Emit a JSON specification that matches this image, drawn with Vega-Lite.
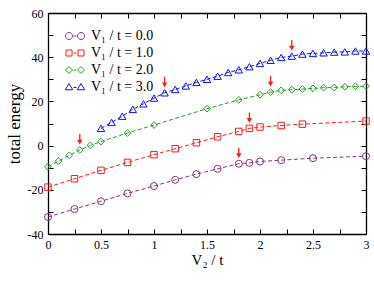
{
  "$schema": "https://vega.github.io/schema/vega-lite/v6.json",
  "width": 318,
  "height": 221,
  "autosize": "none",
  "padding": {"left": 48, "top": 13, "right": 8, "bottom": 49},
  "background": "white",
  "config": {
    "view": {"stroke": null},
    "font": "Liberation Serif",
    "axis": {
      "domainColor": "black",
      "domainWidth": 1.3,
      "tickColor": "black",
      "tickWidth": 1,
      "grid": false,
      "labelFont": "Liberation Serif",
      "labelFontSize": 12,
      "labelColor": "black",
      "titleFont": "Liberation Serif",
      "titleFontWeight": "normal",
      "titleColor": "black"
    },
    "legend": {
      "orient": "none",
      "legendX": 20,
      "legendY": 16,
      "title": null,
      "padding": 0,
      "rowPadding": 3,
      "labelFont": "Liberation Serif",
      "labelFontSize": 14,
      "labelColor": "black",
      "labelOffset": 9,
      "symbolSize": 100,
      "symbolStrokeWidth": 1,
      "symbolOpacity": 1
    }
  },
  "datasets": {
    "energy": [
      {"series": "V₁ / t = 0.0", "v2": 0, "e": -32.3},
      {"series": "V₁ / t = 0.0", "v2": 0.25, "e": -28.7},
      {"series": "V₁ / t = 0.0", "v2": 0.5, "e": -25.2},
      {"series": "V₁ / t = 0.0", "v2": 0.75, "e": -21.6},
      {"series": "V₁ / t = 0.0", "v2": 1.0, "e": -18.3},
      {"series": "V₁ / t = 0.0", "v2": 1.2, "e": -15.5},
      {"series": "V₁ / t = 0.0", "v2": 1.4, "e": -12.9},
      {"series": "V₁ / t = 0.0", "v2": 1.6, "e": -10.5},
      {"series": "V₁ / t = 0.0", "v2": 1.8, "e": -8.2},
      {"series": "V₁ / t = 0.0", "v2": 1.9, "e": -7.8},
      {"series": "V₁ / t = 0.0", "v2": 2.0, "e": -7.2},
      {"series": "V₁ / t = 0.0", "v2": 2.2, "e": -6.6},
      {"series": "V₁ / t = 0.0", "v2": 2.5, "e": -5.7},
      {"series": "V₁ / t = 0.0", "v2": 3.0, "e": -4.8},
      {"series": "V₁ / t = 1.0", "v2": 0, "e": -18.8},
      {"series": "V₁ / t = 1.0", "v2": 0.25, "e": -15.0},
      {"series": "V₁ / t = 1.0", "v2": 0.5, "e": -11.2},
      {"series": "V₁ / t = 1.0", "v2": 0.75, "e": -7.6},
      {"series": "V₁ / t = 1.0", "v2": 1.0, "e": -4.1},
      {"series": "V₁ / t = 1.0", "v2": 1.2, "e": -1.4},
      {"series": "V₁ / t = 1.0", "v2": 1.4, "e": 1.3},
      {"series": "V₁ / t = 1.0", "v2": 1.6, "e": 4.0},
      {"series": "V₁ / t = 1.0", "v2": 1.8, "e": 6.4},
      {"series": "V₁ / t = 1.0", "v2": 1.9, "e": 7.8},
      {"series": "V₁ / t = 1.0", "v2": 2.0, "e": 8.4},
      {"series": "V₁ / t = 1.0", "v2": 2.2, "e": 9.1},
      {"series": "V₁ / t = 1.0", "v2": 2.4, "e": 9.7},
      {"series": "V₁ / t = 1.0", "v2": 3.0, "e": 11.1},
      {"series": "V₁ / t = 2.0", "v2": 0, "e": -9.6},
      {"series": "V₁ / t = 2.0", "v2": 0.1, "e": -7.0},
      {"series": "V₁ / t = 2.0", "v2": 0.2, "e": -4.4},
      {"series": "V₁ / t = 2.0", "v2": 0.3, "e": -2.0},
      {"series": "V₁ / t = 2.0", "v2": 0.4, "e": 0.1},
      {"series": "V₁ / t = 2.0", "v2": 0.5, "e": 1.8},
      {"series": "V₁ / t = 2.0", "v2": 0.75, "e": 5.7},
      {"series": "V₁ / t = 2.0", "v2": 1.0, "e": 9.3},
      {"series": "V₁ / t = 2.0", "v2": 1.5, "e": 16.7},
      {"series": "V₁ / t = 2.0", "v2": 1.8, "e": 20.7},
      {"series": "V₁ / t = 2.0", "v2": 2.0, "e": 23.0},
      {"series": "V₁ / t = 2.0", "v2": 2.1, "e": 24.2},
      {"series": "V₁ / t = 2.0", "v2": 2.2, "e": 25.0},
      {"series": "V₁ / t = 2.0", "v2": 2.3, "e": 25.3},
      {"series": "V₁ / t = 2.0", "v2": 2.4, "e": 25.6},
      {"series": "V₁ / t = 2.0", "v2": 2.5, "e": 25.9},
      {"series": "V₁ / t = 2.0", "v2": 2.6, "e": 26.2},
      {"series": "V₁ / t = 2.0", "v2": 2.7, "e": 26.3},
      {"series": "V₁ / t = 2.0", "v2": 2.8, "e": 26.6},
      {"series": "V₁ / t = 2.0", "v2": 2.9, "e": 26.8},
      {"series": "V₁ / t = 2.0", "v2": 3.0, "e": 26.9},
      {"series": "V₁ / t = 3.0", "v2": 0.5, "e": 7.8},
      {"series": "V₁ / t = 3.0", "v2": 0.6, "e": 10.5},
      {"series": "V₁ / t = 3.0", "v2": 0.7, "e": 13.3},
      {"series": "V₁ / t = 3.0", "v2": 0.8, "e": 16.4},
      {"series": "V₁ / t = 3.0", "v2": 0.9, "e": 18.9},
      {"series": "V₁ / t = 3.0", "v2": 1.0, "e": 21.5},
      {"series": "V₁ / t = 3.0", "v2": 1.1, "e": 23.9},
      {"series": "V₁ / t = 3.0", "v2": 1.2, "e": 25.4},
      {"series": "V₁ / t = 3.0", "v2": 1.3, "e": 27.0},
      {"series": "V₁ / t = 3.0", "v2": 1.4, "e": 28.6},
      {"series": "V₁ / t = 3.0", "v2": 1.5, "e": 30.0},
      {"series": "V₁ / t = 3.0", "v2": 1.6, "e": 31.4},
      {"series": "V₁ / t = 3.0", "v2": 1.7, "e": 33.1},
      {"series": "V₁ / t = 3.0", "v2": 1.8, "e": 34.3},
      {"series": "V₁ / t = 3.0", "v2": 1.9, "e": 35.7},
      {"series": "V₁ / t = 3.0", "v2": 2.0, "e": 37.2},
      {"series": "V₁ / t = 3.0", "v2": 2.1, "e": 38.6},
      {"series": "V₁ / t = 3.0", "v2": 2.2, "e": 39.9},
      {"series": "V₁ / t = 3.0", "v2": 2.3, "e": 40.5},
      {"series": "V₁ / t = 3.0", "v2": 2.4, "e": 41.4},
      {"series": "V₁ / t = 3.0", "v2": 2.5, "e": 41.7},
      {"series": "V₁ / t = 3.0", "v2": 2.6, "e": 42.0},
      {"series": "V₁ / t = 3.0", "v2": 2.7, "e": 42.3},
      {"series": "V₁ / t = 3.0", "v2": 2.8, "e": 42.4},
      {"series": "V₁ / t = 3.0", "v2": 2.9, "e": 42.8},
      {"series": "V₁ / t = 3.0", "v2": 3.0, "e": 42.8}
    ],
    "arrows": [
      {"v2": 0.3, "e": -2.0},
      {"v2": 1.1, "e": 23.9},
      {"v2": 1.8, "e": -8.2},
      {"v2": 1.9, "e": 7.8},
      {"v2": 2.1, "e": 24.2},
      {"v2": 2.3, "e": 40.5}
    ],
    "legend": [
      {"series": "V₁ / t = 0.0"},
      {"series": "V₁ / t = 1.0"},
      {"series": "V₁ / t = 2.0"},
      {"series": "V₁ / t = 3.0"}
    ]
  },
  "resolve": {"axis": {"x": "independent", "y": "independent"}},
  "layer": [
    {
      "data": {"name": "energy"},
      "mark": {"type": "line", "strokeWidth": 1, "strokeDash": [4, 2.5]},
      "encoding": {
        "x": {
          "field": "v2", "type": "quantitative",
          "scale": {"domain": [0, 3], "nice": false, "zero": false},
          "axis": {
            "orient": "bottom",
            "title": "V₂ / t",
            "titleFontSize": 15,
            "titlePadding": 2,
            "values": [0, 0.25, 0.5, 0.75, 1, 1.25, 1.5, 1.75, 2, 2.25, 2.5, 2.75, 3],
            "labelExpr": "datum.value % 0.5 == 0 ? '' + datum.value : ''",
            "tickSize": -5,
            "labelPadding": 10,
            "labelFlush": false
          }
        },
        "y": {
          "field": "e", "type": "quantitative",
          "scale": {"domain": [-40, 60], "nice": false, "zero": false},
          "axis": {
            "orient": "left",
            "title": "total energy",
            "titleFontSize": 17,
            "titlePadding": 4,
            "values": [-40, -30, -20, -10, 0, 10, 20, 30, 40, 50, 60],
            "labelExpr": "datum.value % 20 == 0 ? '' + datum.value : ''",
            "tickSize": -5,
            "labelPadding": 10,
            "labelFlush": false
          }
        },
        "color": {
          "field": "series", "type": "nominal",
          "scale": {
            "domain": ["V₁ / t = 0.0", "V₁ / t = 1.0", "V₁ / t = 2.0", "V₁ / t = 3.0"],
            "range": ["#853585", "#FF1A1A", "#1E9E1E", "#1010FF"]
          }
        },
        "detail": {"field": "series"}
      }
    },
    {
      "data": {"name": "energy"},
      "transform": [{"filter": "datum.series == 'V₁ / t = 0.0'"}],
      "mark": {"type": "point", "shape": "circle", "filled": false, "size": 49, "strokeWidth": 1, "opacity": 1},
      "encoding": {
        "x": {"field": "v2", "type": "quantitative", "axis": {"orient": "top", "title": null, "labels": false, "values": [0, 0.25, 0.5, 0.75, 1, 1.25, 1.5, 1.75, 2, 2.25, 2.5, 2.75, 3], "tickSize": -5}},
        "y": {"field": "e", "type": "quantitative", "axis": {"orient": "right", "title": null, "labels": false, "values": [-40, -30, -20, -10, 0, 10, 20, 30, 40, 50, 60], "tickSize": -5}},
        "color": {"field": "series", "type": "nominal"}
      }
    },
    {
      "data": {"name": "energy"},
      "transform": [{"filter": "datum.series == 'V₁ / t = 1.0'"}],
      "mark": {"type": "point", "shape": "square", "filled": false, "size": 42, "strokeWidth": 1, "opacity": 1},
      "encoding": {
        "x": {"field": "v2", "type": "quantitative", "axis": null},
        "y": {"field": "e", "type": "quantitative", "axis": null},
        "color": {"field": "series", "type": "nominal"}
      }
    },
    {
      "data": {"name": "energy"},
      "transform": [{"filter": "datum.series == 'V₁ / t = 2.0'"}],
      "mark": {"type": "point", "shape": "diamond", "filled": false, "size": 45, "strokeWidth": 1, "opacity": 1},
      "encoding": {
        "x": {"field": "v2", "type": "quantitative", "axis": null},
        "y": {"field": "e", "type": "quantitative", "axis": null},
        "color": {"field": "series", "type": "nominal"}
      }
    },
    {
      "data": {"name": "energy"},
      "transform": [{"filter": "datum.series == 'V₁ / t = 3.0'"}],
      "mark": {"type": "point", "shape": "triangle-up", "filled": false, "size": 55, "strokeWidth": 1, "opacity": 1},
      "encoding": {
        "x": {"field": "v2", "type": "quantitative", "axis": null},
        "y": {"field": "e", "type": "quantitative", "axis": null},
        "color": {"field": "series", "type": "nominal"}
      }
    },
    {
      "data": {"name": "arrows"},
      "mark": {"type": "rule", "color": "#FF1A1A", "strokeWidth": 1.3, "yOffset": -16, "y2Offset": -9},
      "encoding": {
        "x": {"field": "v2", "type": "quantitative", "axis": null},
        "y": {"field": "e", "type": "quantitative", "axis": null},
        "y2": {"field": "e"}
      }
    },
    {
      "data": {"name": "arrows"},
      "mark": {"type": "point", "shape": "triangle-down", "filled": true, "color": "#FF1A1A", "size": 30, "opacity": 1, "yOffset": -8},
      "encoding": {
        "x": {"field": "v2", "type": "quantitative", "axis": null},
        "y": {"field": "e", "type": "quantitative", "axis": null}
      }
    },
    {
      "data": {"name": "legend"},
      "mark": {"type": "point", "filled": false, "opacity": 0},
      "encoding": {
        "color": {"field": "series", "type": "nominal"},
        "shape": {
          "field": "series", "type": "nominal",
          "scale": {
            "domain": ["V₁ / t = 0.0", "V₁ / t = 1.0", "V₁ / t = 2.0", "V₁ / t = 3.0"],
            "range": [
              "M-1.9,0A0.7,0.7,0,1,0,-0.5,0A0.7,0.7,0,1,0,-1.9,0Z M0.5,0A0.7,0.7,0,1,0,1.9,0A0.7,0.7,0,1,0,0.5,0Z M-0.3,0L0.3,0",
              "M-1.8,-0.6L-0.6,-0.6L-0.6,0.6L-1.8,0.6Z M0.6,-0.6L1.8,-0.6L1.8,0.6L0.6,0.6Z M-0.3,0L0.3,0",
              "M-1.9,0L-1.2,-0.7L-0.5,0L-1.2,0.7Z M0.5,0L1.2,-0.7L1.9,0L1.2,0.7Z M-0.3,0L0.3,0",
              "M-1.2,-0.7L-0.45,0.55L-1.95,0.55Z M1.2,-0.7L1.95,0.55L0.45,0.55Z M-0.3,0.1L0.3,0.1"
            ]
          }
        }
      }
    }
  ]
}
